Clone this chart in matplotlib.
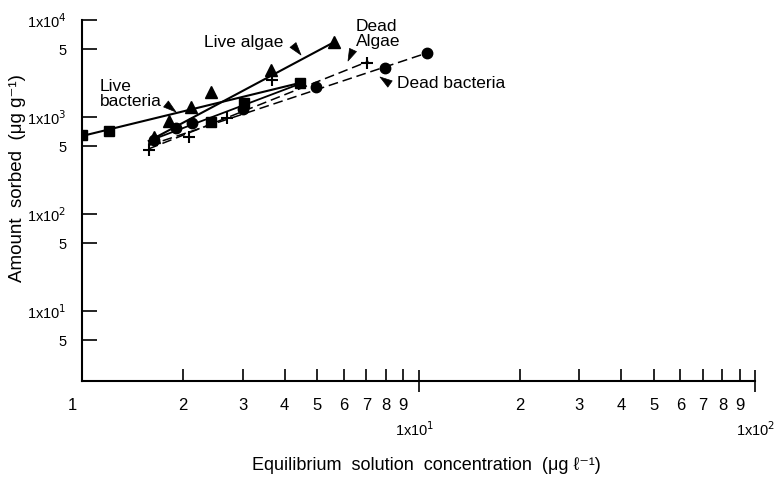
import matplotlib
matplotlib.use("Agg")
import matplotlib.pyplot as plt
from matplotlib.ticker import FixedLocator, NullFormatter, FixedFormatter

plt.rcParams['font.family'] = ['Liberation Sans', 'DejaVu Sans']
plt.rcParams['lines.scale_dashes'] = False

# ---- data ----
live_algae_x = [1.64, 1.81, 2.11, 2.42, 3.65, 5.62]
live_algae_y = [622, 910, 1268, 1811, 3053, 5934]
live_algae_line_x = [1.58, 5.62]
live_algae_line_y = [566, 5930]

live_bact_x = [1.0, 1.20, 2.42, 3.03, 4.43]
live_bact_y = [652, 718, 888, 1393, 2243]
live_bact_line_x = [1.0, 4.43]
live_bact_line_y = [637, 2240]
live_bact_line2_x = [1.58, 4.43]
live_bact_line2_y = [566, 2190]

dead_algae_x = [1.58, 2.08, 2.70, 3.68, 7.05]
dead_algae_y = [457, 622, 977, 2407, 3604]
dead_algae_line_x = [1.58, 7.1]
dead_algae_line_y = [470, 3750]

dead_bact_x = [1.64, 1.90, 2.13, 3.01, 4.97, 7.97, 10.6]
dead_bact_y = [579, 771, 867, 1209, 2037, 3200, 4571]
dead_bact_line_x = [1.58, 10.6]
dead_bact_line_y = [510, 4571]

x_major = [2, 3, 4, 5, 6, 7, 8, 9, 20, 30, 40, 50, 60, 70, 80, 90]
x_major_labels = ['2', '3', '4', '5', '6', '7', '8', '9',
                  '2', '3', '4', '5', '6', '7', '8', '9']
x_decades = [10, 100]
y_ticks = [5, 10, 50, 100, 500, 1000, 5000, 10000]
y_labels = ['5', r'1x10$^{1}$', '5', r'1x10$^{2}$', '5', r'1x10$^{3}$',
            '5', r'1x10$^{4}$']

W, H = 782, 480
fig = plt.figure(figsize=(W / 100, H / 100), dpi=100)
ax = fig.add_axes([82 / W, 1 - 381 / H, (755 - 82) / W, (381 - 20) / H])
ax.set_xscale('log')
ax.set_yscale('log')
ax.set_xlim(1, 100)
ax.set_ylim(1.9, 10000)

k = 'black'
dash = (0, (7, 3.5))
ax.plot(live_algae_line_x, live_algae_line_y, color=k, lw=1.5)
ax.plot(live_bact_line_x, live_bact_line_y, color=k, lw=1.5)
ax.plot(live_bact_line2_x, live_bact_line2_y, color=k, lw=1.3)
ax.plot(dead_algae_line_x, dead_algae_line_y, color=k, lw=1.1, linestyle=dash)
ax.plot(dead_bact_line_x, dead_bact_line_y, color=k, lw=1.1, linestyle=dash)

ax.plot(live_algae_x, live_algae_y, ls='none', marker='^', ms=8.5, color=k)
ax.plot(live_bact_x, live_bact_y, ls='none', marker='s', ms=7.5, color=k)
ax.plot(dead_algae_x, dead_algae_y, ls='none', marker='+', ms=9, mew=1.5, color=k)
ax.plot(dead_bact_x, dead_bact_y, ls='none', marker='o', ms=7.5, color=k)

for s in ['top', 'right']:
    ax.spines[s].set_visible(False)
for s in ['left', 'bottom']:
    ax.spines[s].set_linewidth(1.5)

ax.xaxis.set_major_locator(FixedLocator(x_major))
ax.xaxis.set_major_formatter(FixedFormatter(x_major_labels))
ax.xaxis.set_minor_locator(FixedLocator(x_decades))
ax.xaxis.set_minor_formatter(NullFormatter())
ax.tick_params(axis='x', which='major', direction='in', length=9, width=1.2,
               labelsize=12, pad=12)
ax.tick_params(axis='x', which='minor', direction='inout', length=16, width=1.2)

ax.yaxis.set_major_locator(FixedLocator(y_ticks))
ax.yaxis.set_major_formatter(FixedFormatter(y_labels))
ax.yaxis.set_minor_locator(FixedLocator([]))
ax.tick_params(axis='y', which='major', direction='in', length=11, width=1.2,
               labelsize=10.5, pad=11)

# decade labels on x axis
fig.text(72 / W, 1 - 405 / H, '1', fontsize=12, ha='center', va='center')
fig.text(415 / W, 1 - 430 / H, r'1x10$^{1}$', fontsize=10.5, ha='center', va='center')
fig.text(756 / W, 1 - 430 / H, r'1x10$^{2}$', fontsize=10.5, ha='center', va='center')

fig.text(426 / W, 1 - 466 / H, 'Equilibrium  solution  concentration  (μg ℓ⁻¹)',
         fontsize=13, ha='center', va='center')
fig.text(18 / W, 1 - 178 / H, 'Amount  sorbed  (μg g⁻¹)', fontsize=13.5,
         ha='center', va='center', rotation=90)

# annotations
def note(text, txy):
    fig.text(txy[0] / W, 1 - txy[1] / H, text, fontsize=12.5, ha='left',
             va='center', linespacing=1.05)

def wedge(p0, p1):
    ax.annotate('', xy=(p1[0], H - p1[1]), xycoords='figure pixels',
                xytext=(p0[0], H - p0[1]), textcoords='figure pixels',
                arrowprops=dict(arrowstyle='wedge,tail_width=0.55,shrink_factor=0.5',
                                fc=k, ec=k, lw=0.5, shrinkA=0, shrinkB=0))

note('Live algae', (204, 43))
note('Live\nbacteria', (100, 94))
note('Dead\nAlgae', (356, 34))
note('Dead bacteria', (397, 84))
wedge((293, 45), (301, 55))
wedge((166, 104), (176, 112))
wedge((353, 50), (348, 61))
wedge((390, 84), (380, 77))

fig.savefig('out.png', dpi=100)
